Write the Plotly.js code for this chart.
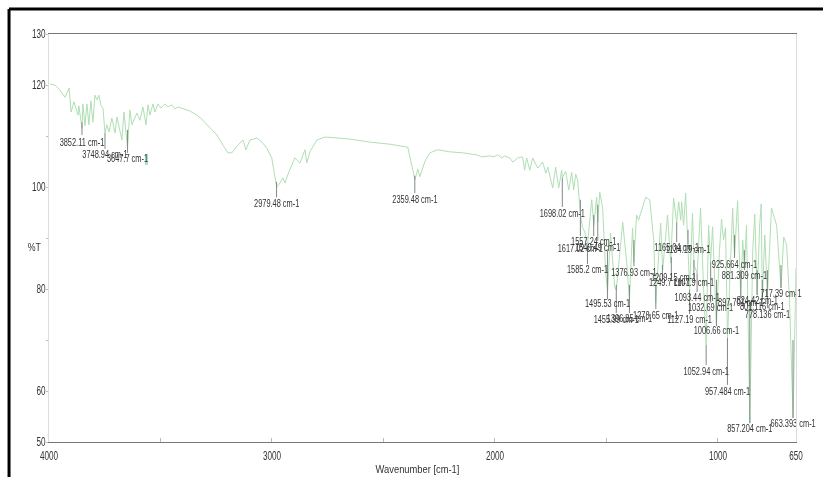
<!DOCTYPE html>
<html><head><meta charset="utf-8">
<script src="https://cdn.plot.ly/plotly-3.0.1.min.js"></script>
<style>html,body{margin:0;padding:0;background:#fff}#c{width:823px;height:477px;filter:blur(0.5px)}</style>
</head><body><div id="c"></div>
<script>
const wavenumber=[3996,3973,3951,3928,3910,3901,3888,3870,3866,3852,3848,3839,3830,3821,3812,3803,3794,3785,3776,3767,3758,3749,3740,3731,3718,3704,3695,3673,3664,3648,3637,3628,3606,3592,3579,3565,3556,3547,3534,3525,3511,3498,3480,3467,3449,3435,3422,3399,3368,3337,3310,3278,3247,3220,3198,3180,3153,3130,3117,3099,3068,3045,3023,3001,2987,2979,2964,2951,2942,2924,2897,2875,2852,2844,2830,2799,2763,2651,2561,2472,2391,2373,2359,2346,2337,2315,2292,2257,2203,2144,2082,2059,2023,2006,1988,1970,1956,1934,1920,1898,1876,1867,1858,1844,1831,1808,1786,1772,1763,1741,1728,1714,1701,1698,1683,1669,1656,1647,1638,1629,1617,1607,1597,1585,1566,1557,1544,1539,1530,1517,1504,1495,1482,1463,1456,1427,1409,1397,1383,1377,1365,1356,1324,1306,1288,1279,1257,1248,1226,1212,1199,1185,1176,1167,1163,1154,1145,1136,1127,1114,1107,1093,1078,1064,1053,1042,1033,1024,1007,993,984,975,966,957,942,934,926,912,898,889,881,872,857,844,835,824,813,806,801,790,778,760,737,717,705,692,679,663,650];
const transmittance=[120.2,120,119,117.6,119.4,114.7,116.7,114.1,115.9,111.5,116.3,112,116.3,112.2,116.9,112.7,118,117.1,118,115.9,115.5,110.6,112.2,110.8,113.5,110.6,113.7,109.2,114.7,107.8,115.1,112.2,114.5,113.1,115.7,112.2,116.1,114.1,116.3,114.7,116.3,115.5,116.3,115.7,116.1,115.3,115.7,115.3,114.9,114.1,113.1,111.6,110.2,108.2,106.7,106.7,108.2,109.2,107.3,109.2,109.6,108.8,107.6,105.7,102.4,100,100.8,101.8,100.8,103,105.7,104.7,107.3,104.7,106.9,109.2,109.8,109.4,108.8,108.4,107.8,104.3,101.4,103.5,102,104.9,106.7,107.3,106.9,106.7,106.3,105.9,106.1,105.9,106.3,105.7,106.1,105.7,104.9,105.7,105.9,103.3,105.7,103.3,105.7,103.7,104.9,102.7,103.9,99.8,103.9,99.8,103.3,101.8,103.1,99.4,102.9,99.4,102.5,101.4,94.5,92,91.2,88.6,97.5,92.5,98,93.1,99,95.9,83.7,79.4,91,80.4,79.8,93.1,85,77.8,92,85.3,94.5,93.5,98,97.5,89.6,77.3,92.9,83.7,94.5,85.1,97.8,93.1,97.1,93.5,97.1,92.5,98.8,89.6,79.8,94.9,84.7,83.1,95.9,79.8,69,92.5,85.3,92.2,72.9,87.6,93.7,89.6,92,70.4,89.6,95.9,86.1,97.3,78.4,89.6,84.1,92.5,53.7,87.6,94.7,78.8,92.5,96.7,77.8,90.6,78.8,95.9,92.5,80.2,90.2,88.6,77.8,54.7,84.1];

const peakWn=[3852.11,3748.94,3647.7,2979.48,2359.48,1698.02,1617.02,1557.24,1539,1585.2,1495.53,1455.99,1396.85,1376.93,1278.65,1249,1209.15,1185,1134.19,1107.9,1127.19,1093.44,1052.94,1032.69,1006.66,957.484,925.664,897.701,881.309,857.204,824.42,801.116,778.136,717.39,663.393];
const stemTop=[112.7,110.6,111.2,101,102.2,101.8,97.5,94.5,96.5,88.6,87.6,80.8,80.8,89.6,80.8,84.7,86.3,93.1,91.6,85.7,79.8,83.1,69,85.3,81.8,70.4,90.6,83.7,87.6,77.8,83.7,81.8,83.7,84.7,70];
const stemBottom=[110.2,107.5,106.7,98,98.8,96.1,90.4,90.4,89.4,84.9,78,75.3,75.3,84.5,76.1,82.2,82.2,89.2,88.8,82.2,75.1,79.4,65.1,77.3,72.7,61.2,86.1,78.4,83.7,53.7,78.8,77.8,76.3,80.2,54.7];
const peakLabels=["3852.11 cm-1","3748.94 cm-1","3647.7 cm-1","2979.48 cm-1","2359.48 cm-1","1698.02 cm-1","1617.02 cm-1","1557.24 cm-1","1540.49 cm-1","1585.2 cm-1","1495.53 cm-1","1455.99 cm-1","1396.85 cm-1","1376.93 cm-1","1278.65 cm-1","1249.7 cm-1","1209.15 cm-1","1165.04 cm-1","1134.19 cm-1","1107.9 cm-1","1127.19 cm-1","1093.44 cm-1","1052.94 cm-1","1032.69 cm-1","1006.66 cm-1","957.484 cm-1","925.664 cm-1","897.701 cm-1","881.309 cm-1","857.204 cm-1","824.42 cm-1","801.116 cm-1","778.136 cm-1","717.39 cm-1","663.393 cm-1"];
const labelWn=[3852,3749,3648,2979,2359,1698,1617,1557,1539,1585,1495,1456,1397,1377,1279,1217,1199,1185,1134,1108,1127,1093,1053,1033,1007,957,926,898,881,857,824,801,778,717,663];
const labelT=[108.6,106.1,105.3,96.5,97.3,94.7,87.8,89.2,88,83.7,76.9,73.9,74.1,83.1,74.7,81,82,88,87.6,81,73.9,78.2,63.7,76.1,71.6,59.8,84.7,77.1,82.5,52.5,77.6,76.3,74.9,79,53.5];

const xTickVals=[4000,3500,3000,2500,2000,1500,1000,650];
const xTickText=["4000","","3000","","2000","","1000","650"];
const yTickVals=[50,60,70,80,90,100,110,120,130];
const yTickText=["50","60","","80","","100","","120","130"];

const FONT="'Liberation Sans',sans-serif";

const stemX=[],stemY=[];
peakWn.forEach((w,i)=>{stemX.push(w,w,null);stemY.push(stemTop[i],stemBottom[i],null);});

const traces=[
 {x:wavenumber,y:transmittance,type:'scatter',mode:'lines',line:{color:'#b0dfb4',width:1},hoverinfo:'skip'},
 {x:stemX,y:stemY,type:'scatter',mode:'lines',line:{color:'#7f8a82',width:1},hoverinfo:'skip'},
 {x:labelWn,y:labelT,text:peakLabels,type:'scatter',mode:'text',textposition:'middle center',cliponaxis:false,
  textfont:{family:FONT,size:10,color:'#333'},hoverinfo:'skip'}
];
const layout={
 width:823,height:477,showlegend:false,paper_bgcolor:'#fff',plot_bgcolor:'#fff',
 margin:{l:49,r:27,t:34,b:35},
 xaxis:{range:[4000,650],autorange:false,tickmode:'array',tickvals:xTickVals,ticktext:xTickText,ticks:'inside',ticklen:4,
   tickcolor:'#bbb',showgrid:false,zeroline:false,showline:true,mirror:true,linecolor:'#777',linewidth:1,
   ticklabelstandoff:3,
   tickfont:{family:FONT,size:12,color:'#333'},
   title:{text:'Wavenumber [cm-1]',font:{family:FONT,size:11,color:'#333'},standoff:2}},
 yaxis:{range:[50,130],autorange:false,tickmode:'array',tickvals:yTickVals,ticktext:yTickText,ticks:'outside',ticklen:2,
   tickcolor:'#bbb',showgrid:false,zeroline:false,showline:true,mirror:true,linecolor:'#ddd',linewidth:1,
   ticklabelstandoff:-2,
   tickfont:{family:FONT,size:12,color:'#333'}},
 annotations:[{text:'%T',xref:'paper',yref:'paper',x:-0.034,y:0.478,showarrow:false,font:{family:FONT,size:11,color:'#333'}}],
 shapes:[
  {type:'line',xref:'paper',yref:'paper',x0:-0.0535,x1:1.04,y0:1.0613,y1:1.0613,line:{color:'#000',width:3}},
  {type:'line',xref:'paper',yref:'paper',x0:-0.0535,x1:-0.0535,y0:1.0613,y1:-0.09,line:{color:'#000',width:3}},
  {type:'rect',xref:'x',yref:'y',x0:3570,x1:3556,y0:104.3,y1:106.5,line:{width:0},fillcolor:'#a9e0cf',layer:'below'}
 ]
};
function squeeze(sel,f){document.querySelectorAll('#c '+sel).forEach(t=>{
  const n=t.getComputedTextLength(); if(n>0){t.setAttribute('textLength',n*f);t.setAttribute('lengthAdjust','spacingAndGlyphs');}
});}
Plotly.newPlot('c',traces,layout,{displayModeBar:false,staticPlot:true}).then(()=>{
  squeeze('.textpoint text',0.74);
  squeeze('.xtick text',0.68);
  squeeze('.ytick text',0.68);
  squeeze('.xtitle',0.85);
  squeeze('.annotation-text',0.8);
  const xt=document.querySelector('#c .xtitle');
  if(xt){xt.setAttribute('x',parseFloat(xt.getAttribute('x'))-5);}
});
</script></body></html>
